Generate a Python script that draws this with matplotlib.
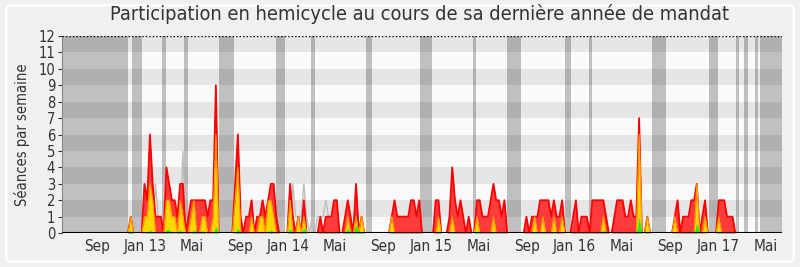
import numpy as np
import pandas as pd
import matplotlib
matplotlib.use('Agg')
import matplotlib.pyplot as plt
from matplotlib.patches import FancyBboxPatch

plt.rcParams['font.family'] = ['DejaVu Sans']
plt.rcParams['font.stretch'] = 'condensed'

# Semaines depuis le debut (lundi 4 juin 2012)
debut = pd.Timestamp('2012-06-04')
nb_semaines = 262

# Presences (rouge), une valeur par semaine
presences = [
    0, 0, 0, 0, 0, 0, 0, 0, 0, 0,
    0, 0, 0, 0, 0, 0, 0, 0, 0, 0,
    0, 0, 0, 0, 0, 1, 0, 0, 0, 0,
    3, 2, 6, 3, 1, 1, 1, 0, 4, 3,
    2, 2, 1, 3, 3, 0, 1, 2, 2, 2,
    2, 2, 2, 1, 2, 2, 9, 0, 0, 0,
    0, 0, 0, 3, 6, 1, 0, 1, 1, 2,
    0, 1, 1, 2, 1, 2, 3, 3, 1, 0,
    0, 0, 0, 3, 1, 0, 1, 0, 2, 0,
    0, 0, 0, 0, 1, 0, 1, 1, 1, 2,
    2, 0, 0, 1, 2, 1, 0, 3, 0, 1,
    0, 0, 0, 0, 0, 0, 0, 0, 0, 0,
    1, 2, 1, 1, 1, 1, 1, 2, 2, 1,
    2, 0, 0, 0, 0, 0, 2, 2, 0, 0,
    0, 1, 4, 2, 1, 2, 1, 0, 1, 0,
    0, 2, 2, 1, 1, 1, 2, 3, 2, 2,
    1, 2, 0, 0, 0, 0, 0, 0, 0, 1,
    0, 1, 1, 1, 2, 2, 2, 2, 1, 2,
    1, 1, 2, 0, 0, 0, 1, 2, 0, 1,
    1, 1, 0, 2, 2, 2, 2, 2, 1, 0,
    0, 1, 2, 2, 2, 1, 1, 2, 1, 1,
    7, 0, 0, 1, 0, 0, 0, 0, 0, 0,
    0, 0, 0, 1, 2, 0, 1, 1, 1, 2,
    2, 3, 0, 1, 2, 0, 0, 0, 0, 2,
    2, 2, 1, 1, 1, 0, 0, 0, 0, 0,
    0, 0, 0, 0, 0, 0, 0, 0, 0, 0,
    0, 0,
]

# Participations (jaune)
participations = [
    0, 0, 0, 0, 0, 0, 0, 0, 0, 0,
    0, 0, 0, 0, 0, 0, 0, 0, 0, 0,
    0, 0, 0, 0, 0, 1, 0, 0, 0, 0,
    1, 1, 3, 2, 0, 0, 0, 0, 2, 2,
    1, 1, 0, 2, 1, 0, 0, 1, 2, 0,
    0, 1, 1, 0, 0, 1, 6, 0, 0, 0,
    0, 0, 0, 2, 4, 0, 0, 0, 0, 1,
    0, 0, 1, 1, 0, 2, 2, 1, 0, 0,
    0, 0, 0, 2, 0, 0, 1, 0, 1, 0,
    0, 0, 0, 0, 0, 0, 0, 0, 0, 0,
    0, 0, 0, 0, 1, 0, 0, 1, 0, 1,
    0, 0, 0, 0, 0, 0, 0, 0, 0, 0,
    1, 0, 0, 0, 0, 0, 0, 0, 0, 0,
    0, 0, 0, 0, 0, 0, 0, 1, 0, 0,
    0, 0, 1, 0, 0, 0, 0, 0, 0, 0,
    0, 1, 0, 0, 0, 0, 0, 1, 0, 0,
    0, 0, 0, 0, 0, 0, 0, 0, 0, 0,
    0, 0, 1, 0, 0, 1, 0, 0, 0, 1,
    0, 0, 1, 0, 0, 0, 0, 0, 0, 0,
    0, 0, 0, 0, 0, 0, 0, 1, 0, 0,
    0, 0, 0, 0, 0, 0, 0, 0, 0, 0,
    6, 0, 0, 1, 0, 0, 0, 0, 0, 0,
    0, 0, 0, 1, 0, 0, 0, 0, 0, 0,
    0, 3, 0, 0, 1, 0, 0, 0, 0, 1,
    0, 0, 0, 0, 0, 0, 0, 0, 0, 0,
    0, 0, 0, 0, 0, 0, 0, 0, 0, 0,
    0, 0,
]

# Interventions (vert), semaines non nulles
interventions = {25: 0.15, 32: 0.2, 38: 0.2, 39: 0.2, 43: 0.2, 48: 0.2, 51: 0.15,
                 56: 0.4, 64: 0.3, 76: 0.2, 83: 0.3, 88: 0.3, 104: 0.3, 107: 0.5,
                 109: 0.1, 120: 0.1, 137: 0.1, 142: 0.1, 151: 0.1, 157: 0.1,
                 172: 0.1, 175: 0.1, 179: 0.1, 197: 0.2, 210: 1.0, 213: 0.1,
                 231: 0.6, 239: 0.1}

# Ligne grise
mediane = {34: 3, 35: 1, 44: 5, 84: 3, 85: 1, 86: 1, 87: 1, 88: 3, 89: 1,
           91: 1, 93: 1, 94: 1, 95: 1, 96: 2, 97: 1}

# Vacances parlementaires (en semaines)
vacances = [(0, 24), (25.5, 29.1), (36.4, 37.9), (44.4, 45.9), (57.2, 62.7),
            (78.0, 81.2), (90.7, 92.2), (110.7, 112.9), (130.4, 134.8),
            (149.4, 150.5), (162.1, 167.2), (182.9, 185.1), (191.6, 193.0),
            (214.6, 219.7), (235.3, 238.6), (245.2, 246.3), (248.1, 249.5),
            (252.1, 253.2), (253.9, 262)]

mois = ['2012-09-01', '2013-01-01', '2013-05-01', '2013-09-01', '2014-01-01',
        '2014-05-01', '2014-09-01', '2015-01-01', '2015-05-01', '2015-09-01',
        '2016-01-01', '2016-05-01', '2016-09-01', '2017-01-01', '2017-05-01']
mois_labels = ['Sep', 'Jan 13', 'Mai', 'Sep', 'Jan 14', 'Mai', 'Sep', 'Jan 15',
               'Mai', 'Sep', 'Jan 16', 'Mai', 'Sep', 'Jan 17', 'Mai']

x = np.arange(nb_semaines)
rouge = np.array(presences, dtype=float)
jaune = np.array(participations, dtype=float)
vert = np.zeros(nb_semaines)
for k, v in interventions.items():
    vert[k] = v
gris = np.zeros(nb_semaines)
for k, v in mediane.items():
    gris[k] = v

fig = plt.figure(figsize=(8, 2.67), dpi=100, facecolor='#f0f0f0')
fig.patches.append(FancyBboxPatch((0.008, 0.02), 0.984, 0.96,
                                  boxstyle='round,pad=0,rounding_size=0.01',
                                  transform=fig.transFigure, facecolor='#f0f0f0',
                                  edgecolor='#ffffff', linewidth=1.5, zorder=-5))
ax = fig.add_axes([0.0775, 0.127, 0.9, 0.738])
ax.set_facecolor('#fafafa')

# bandes horizontales
for y0 in range(1, 12, 2):
    ax.axhspan(y0, y0 + 1, color='black', alpha=0.08, lw=0, zorder=1)
# vacances
for a, b in vacances:
    ax.axvspan(a, b, color='#c0c0c0', lw=0, zorder=0.5)

ax.plot(x, gris, color='#bdbdbd', lw=1, zorder=2)
ax.fill_between(x, 0, rouge, color='#ff3b3b', lw=0, zorder=3)
ax.plot(x, rouge, color='#ff0000', lw=1.3, zorder=3.1)
ax.fill_between(x, 0, jaune, color='#ffd700', lw=0, zorder=4)
ax.plot(x, jaune, color='#ff9f00', lw=0.8, zorder=4.1)
ax.fill_between(x, 0, vert, color='#22ee22', lw=0, zorder=5)

ax.axhline(12, color='black', lw=1, ls=(0, (1, 1.5)), zorder=6)
ax.axhline(0, color='black', lw=1.5, zorder=6)

ax.set_xlim(0, 262)
ax.set_ylim(0, 12)
ax.set_yticks(range(0, 13))
pos = [(pd.Timestamp(m) - debut).days / 7 for m in mois]
ax.set_xticks(pos)
ax.set_xticklabels(mois_labels)
ax.tick_params(axis='x', length=0, labelsize=11, colors='#333333', pad=4)
ax.tick_params(axis='y', length=3, labelsize=10.5, colors='#333333', pad=2)
for s in ['top', 'right', 'bottom']:
    ax.spines[s].set_visible(False)
ax.spines['left'].set_color('#888888')

ax.set_ylabel('Séances par semaine', fontsize=10.5, color='#333333', labelpad=6)
fig.suptitle('Participation en hemicycle au cours de sa dernière année de mandat',
             fontsize=14.3, color='#333333', x=0.524, y=0.985)

fig.savefig('out.png', dpi=100, facecolor=fig.get_facecolor())
